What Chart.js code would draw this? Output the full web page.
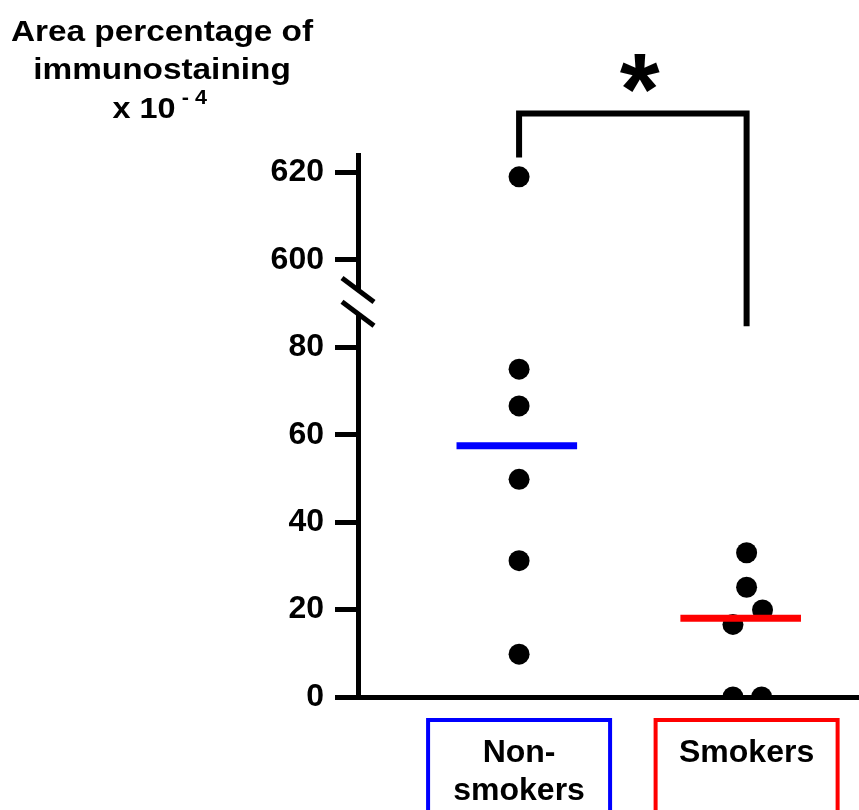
<!DOCTYPE html>
<html>
<head>
<meta charset="utf-8">
<script src="https://cdn.jsdelivr.net/npm/chart.js@4.4.0/dist/chart.umd.min.js"></script>
<style>
html, body { margin: 0; padding: 0; background: #fff; }
canvas { display: block; }
</style>
</head>
<body>
<canvas id="dotChart" width="859" height="810"></canvas>
<script>
// values (area percentage x 10^-4)
var groups = ["Non-smokers", "Smokers"];
var groupLabels = [["Non-", "smokers"], ["Smokers"]];
var nonSmokers = [619, 75.0, 66.6, 49.8, 31.2, 9.8];
var smokers = [33.0, 25.1, 19.9, 16.6, 0, 0];
var medians = [57.5, 18.0];
var yTickValues = [0, 20, 40, 60, 80, 600, 620];

// horizontal scatter of the dots inside a group (x units)
var nonSmokersJitter = [0, 0, 0, 0, 0, 0];
var smokersJitter = [0, 0, 0.07, -0.06, -0.06, 0.066];
var medianShift = [-0.01, -0.026];
var medianHalf = 0.265;

// broken axis: everything above breakTo is pulled down next to breakFrom
var breakFrom = 90, breakTo = 590;
function toAxis(v) { return v >= breakTo ? v - (breakTo - breakFrom) : v; }
function fromAxis(a) { return a > breakFrom ? a + (breakTo - breakFrom) : a; }

var FONT = "'Liberation Sans', Arial, Helvetica, sans-serif";
Chart.defaults.font.family = FONT;
Chart.defaults.color = "#000";

function points(vals, jit, pos) {
  return vals.map(function (v, i) { return { x: pos + jit[i], y: toAxis(v) }; });
}
function medianLine(i) {
  var c = i + 1 + medianShift[i];
  return [{ x: c - medianHalf, y: medians[i] }, { x: c + medianHalf, y: medians[i] }];
}

var extras = {
  id: "extras",
  afterDraw: function (chart, args, opts) {
    var ctx = chart.ctx, xs = chart.scales.x, ys = chart.scales.y, a = chart.chartArea;
    ctx.save();

    // axis break marks
    var yU = ys.getPixelForValue(opts.breakMarks[0]);
    var yL = ys.getPixelForValue(opts.breakMarks[1]);
    ctx.fillStyle = "#fff";
    ctx.fillRect(a.left - 5, yU, 10, yL - yU);
    ctx.strokeStyle = "#000";
    ctx.lineWidth = 5;
    [yU, yL].forEach(function (y) {
      ctx.beginPath();
      ctx.moveTo(a.left - 16, y - 12);
      ctx.lineTo(a.left + 16, y + 12);
      ctx.stroke();
    });

    // significance bracket
    var x1 = xs.getPixelForValue(1), x2 = xs.getPixelForValue(2);
    var yTop = ys.getPixelForValue(opts.bracket[0]);
    ctx.lineWidth = 6;
    ctx.lineJoin = "miter";
    ctx.beginPath();
    ctx.moveTo(x1, ys.getPixelForValue(opts.bracket[1]));
    ctx.lineTo(x1, yTop);
    ctx.lineTo(x2, yTop);
    ctx.lineTo(x2, ys.getPixelForValue(opts.bracket[2]));
    ctx.stroke();

    // star
    ctx.fillStyle = "#000";
    ctx.font = "bold 100px " + FONT;
    var m = ctx.measureText("*");
    var w = m.actualBoundingBoxLeft + m.actualBoundingBoxRight;
    var sz = 100 * 40 / w;
    ctx.font = "bold " + sz + "px " + FONT;
    m = ctx.measureText("*");
    ctx.textAlign = "left";
    ctx.textBaseline = "alphabetic";
    var sx = (x1 + x2) / 2 + 7 - (m.actualBoundingBoxRight - m.actualBoundingBoxLeft) / 2;
    var sy = 73 + (m.actualBoundingBoxAscent - m.actualBoundingBoxDescent) / 2;
    ctx.fillText("*", sx, sy);

    // group boxes
    var boxCol = ["#0000ff", "#ff0000"];
    ctx.lineWidth = 4;
    groups.forEach(function (g, i) {
      var cx = xs.getPixelForValue(i + 1);
      ctx.strokeStyle = boxCol[i];
      ctx.strokeRect(cx - 91, 720, 182, 120);
    });

    // y-axis title
    ctx.textAlign = "center";
    ctx.textBaseline = "alphabetic";
    var tx = 162;
    [["Area percentage of", 41], ["immunostaining", 79]].forEach(function (ln) {
      ctx.save();
      ctx.translate(tx, ln[1]);
      ctx.scale(1.15, 1);
      ctx.font = "bold 29px " + FONT;
      ctx.fillText(ln[0], 0, 0);
      ctx.restore();
    });
    ctx.save();
    ctx.translate(144, 118);
    ctx.scale(1.08, 1);
    ctx.font = "bold 30px " + FONT;
    ctx.textAlign = "center";
    ctx.fillText("x 10", 0, 0);
    ctx.font = "bold 20px " + FONT;
    ctx.textAlign = "left";
    ctx.fillText("- 4", 35, -14);
    ctx.restore();

    ctx.restore();
  }
};

new Chart(document.getElementById("dotChart"), {
  type: "scatter",
  data: {
    datasets: [
      { type: "line", label: "median " + groups[0], data: medianLine(0), borderColor: "#0000ff",
        borderWidth: 7, pointRadius: 0, borderCapStyle: "butt", fill: false },
      { type: "line", label: "median " + groups[1], data: medianLine(1), borderColor: "#ff0000",
        borderWidth: 7, pointRadius: 0, borderCapStyle: "butt", fill: false },
      { label: groups[0], data: points(nonSmokers, nonSmokersJitter, 1), pointRadius: 10.5,
        backgroundColor: "#000", borderWidth: 0 },
      { label: groups[1], data: points(smokers, smokersJitter, 2), pointRadius: 10.5,
        backgroundColor: "#000", borderWidth: 0 }
    ]
  },
  options: {
    responsive: false,
    devicePixelRatio: 1,
    animation: false,
    layout: { autoPadding: false, padding: { top: 155, left: 0, right: 0, bottom: 0 } },
    plugins: {
      legend: { display: false },
      tooltip: { enabled: false },
      extras: { breakMarks: [93.1, 87.7], bracket: [133.5, 123.4, 84.8] }
    },
    scales: {
      x: {
        type: "linear",
        min: 0.292,
        max: 2.494,
        afterBuildTicks: function (s) { s.ticks = [{ value: 1 }, { value: 2 }]; },
        afterFit: function (s) { s.height = 113; s.paddingLeft = 0; s.paddingRight = 0; },
        grid: { drawOnChartArea: false, drawTicks: false },
        border: { display: true, color: "#000", width: 5 },
        ticks: {
          autoSkip: false, maxRotation: 0, padding: 37,
          font: { size: 32, weight: "bold", lineHeight: 38 / 32 },
          callback: function (v, i) { return groupLabels[i]; }
        }
      },
      y: {
        min: 0,
        max: 124,
        afterBuildTicks: function (s) {
          s.ticks = yTickValues.map(function (v) { return { value: toAxis(v) }; });
        },
        afterFit: function (s) { s.width = 358; },
        grid: { drawOnChartArea: false, drawTicks: true, tickLength: 23, lineWidth: 5, color: "#000" },
        border: { display: true, color: "#000", width: 5 },
        ticks: {
          padding: 11,
          font: { size: 32, weight: "bold" },
          callback: function (v) { return String(fromAxis(v)); }
        }
      }
    }
  },
  plugins: [extras]
});
</script>
</body>
</html>
